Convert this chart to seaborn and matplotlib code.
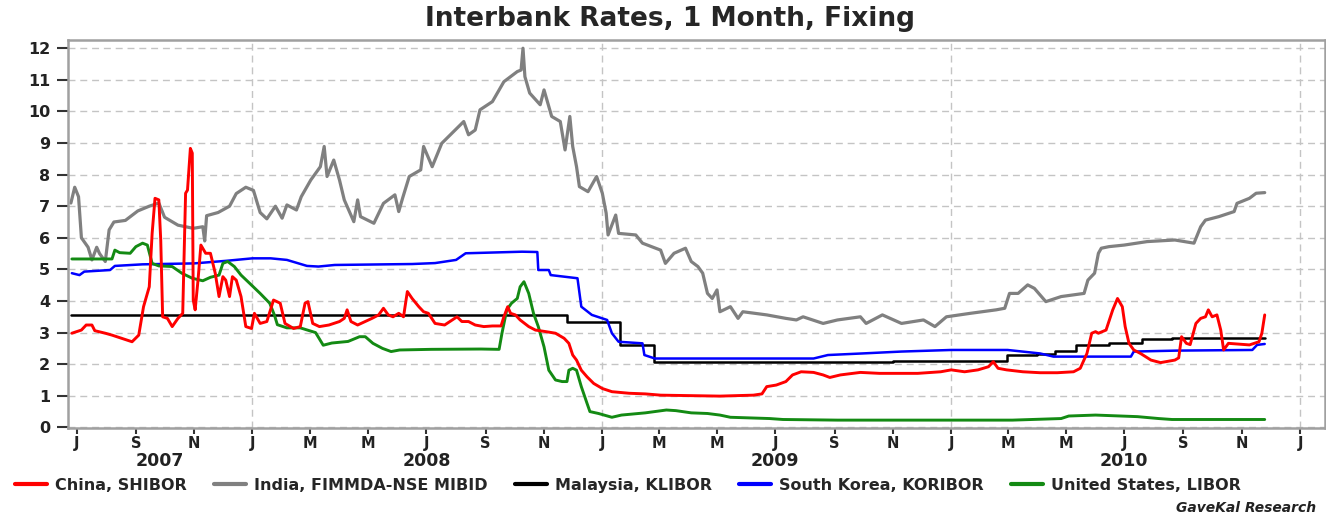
import pandas as pd
import matplotlib
matplotlib.use("Agg")
import matplotlib.pyplot as plt
import seaborn as sns

# ---- data (1 month interbank fixings, %) ----
china_dates = ["2007-06-26", "2007-07-06", "2007-07-11", "2007-07-17", "2007-07-20", "2007-07-31",
               "2007-08-07", "2007-08-17", "2007-08-28", "2007-09-04", "2007-09-09", "2007-09-15",
               "2007-09-18", "2007-09-21", "2007-09-25", "2007-09-27", "2007-09-29", "2007-10-04",
               "2007-10-09", "2007-10-15", "2007-10-20", "2007-10-23", "2007-10-25", "2007-10-28",
               "2007-10-30", "2007-10-31", "2007-11-02", "2007-11-05", "2007-11-08", "2007-11-13",
               "2007-11-18", "2007-11-23", "2007-11-27", "2007-12-01", "2007-12-04", "2007-12-08",
               "2007-12-11", "2007-12-15", "2007-12-20", "2007-12-25", "2007-12-31", "2008-01-03",
               "2008-01-09", "2008-01-16", "2008-01-23", "2008-01-30", "2008-02-04", "2008-02-13",
               "2008-02-20", "2008-02-25", "2008-02-28", "2008-03-04", "2008-03-11", "2008-03-21",
               "2008-04-01", "2008-04-06", "2008-04-09", "2008-04-13", "2008-04-20", "2008-04-28",
               "2008-05-05", "2008-05-12", "2008-05-17", "2008-05-22", "2008-05-27", "2008-06-02",
               "2008-06-07", "2008-06-11", "2008-06-16", "2008-06-23", "2008-06-28", "2008-07-03",
               "2008-07-10", "2008-07-20", "2008-08-02", "2008-08-07", "2008-08-14", "2008-08-21",
               "2008-08-30", "2008-09-08", "2008-09-17", "2008-09-20", "2008-09-24", "2008-09-27",
               "2008-10-02", "2008-10-07", "2008-10-16", "2008-10-23", "2008-11-03", "2008-11-13",
               "2008-11-22", "2008-11-27", "2008-12-01", "2008-12-05", "2008-12-10", "2008-12-16",
               "2008-12-23", "2009-01-01", "2009-01-11", "2009-01-29", "2009-02-15", "2009-03-03",
               "2009-05-04", "2009-06-08", "2009-06-17", "2009-06-22", "2009-07-02", "2009-07-12",
               "2009-07-19", "2009-07-28", "2009-08-10", "2009-08-20", "2009-08-27", "2009-09-07",
               "2009-09-28", "2009-10-18", "2009-11-27", "2009-12-21", "2010-01-01", "2010-01-15",
               "2010-01-29", "2010-02-09", "2010-02-14", "2010-02-19", "2010-02-28", "2010-03-17",
               "2010-04-04", "2010-04-22", "2010-05-09", "2010-05-16", "2010-05-23", "2010-05-28",
               "2010-06-01", "2010-06-04", "2010-06-12", "2010-06-19", "2010-06-24", "2010-06-29",
               "2010-07-02", "2010-07-06", "2010-07-11", "2010-07-18", "2010-07-29", "2010-08-08",
               "2010-08-23", "2010-08-27", "2010-08-30", "2010-09-04", "2010-09-08", "2010-09-14",
               "2010-09-19", "2010-09-24", "2010-09-27", "2010-10-01", "2010-10-06", "2010-10-10",
               "2010-10-13", "2010-10-18", "2010-11-09", "2010-11-19", "2010-11-22", "2010-11-25"]
china_rate = [2.98, 3.08, 3.24, 3.24, 3.06, 2.98,
              2.92, 2.82, 2.71, 2.92, 3.82, 4.45,
              6.14, 7.25, 7.20, 5.93, 3.50, 3.45,
              3.19, 3.45, 3.61, 7.41, 7.51, 8.83,
              8.68, 4.03, 3.72, 4.66, 5.77, 5.51,
              5.51, 4.88, 4.14, 4.77, 4.66, 4.14,
              4.77, 4.66, 4.14, 3.19, 3.13, 3.61,
              3.29, 3.35, 4.03, 3.93, 3.29, 3.13,
              3.19, 3.93, 3.98, 3.29, 3.19, 3.24,
              3.35, 3.45, 3.72, 3.35, 3.24, 3.35,
              3.45, 3.56, 3.77, 3.56, 3.50, 3.61,
              3.50, 4.30, 4.08, 3.82, 3.66, 3.61,
              3.29, 3.24, 3.50, 3.35, 3.35, 3.24,
              3.19, 3.21, 3.21, 3.50, 3.82, 3.61,
              3.56, 3.40, 3.19, 3.08, 3.03, 2.98,
              2.82, 2.66, 2.29, 2.13, 1.81, 1.60,
              1.39, 1.23, 1.13, 1.08, 1.06, 1.02,
              0.99, 1.02, 1.06, 1.29, 1.34, 1.45,
              1.66, 1.76, 1.74, 1.66, 1.58, 1.66,
              1.74, 1.71, 1.71, 1.76, 1.82, 1.76,
              1.82, 1.92, 2.08, 1.87, 1.82, 1.76,
              1.73, 1.73, 1.76, 1.87, 2.34, 2.98,
              3.03, 2.98, 3.08, 3.72, 4.08, 3.82,
              3.19, 2.66, 2.45, 2.34, 2.13, 2.05,
              2.13, 2.20, 2.87, 2.66, 2.62, 3.29,
              3.45, 3.50, 3.72, 3.50, 3.56, 3.08,
              2.45, 2.66, 2.61, 2.71, 2.98, 3.56]

india_dates = ["2007-06-25", "2007-06-29", "2007-07-03", "2007-07-06", "2007-07-13", "2007-07-17",
               "2007-07-22", "2007-07-25", "2007-07-31", "2007-08-04", "2007-08-09", "2007-08-21",
               "2007-09-03", "2007-09-15", "2007-09-25", "2007-10-01", "2007-10-15", "2007-10-31",
               "2007-11-10", "2007-11-12", "2007-11-14", "2007-11-26", "2007-12-08", "2007-12-15",
               "2007-12-25", "2008-01-02", "2008-01-09", "2008-01-16", "2008-01-25", "2008-02-01",
               "2008-02-06", "2008-02-16", "2008-02-21", "2008-03-02", "2008-03-12", "2008-03-16",
               "2008-03-19", "2008-03-26", "2008-04-01", "2008-04-06", "2008-04-16", "2008-04-20",
               "2008-04-23", "2008-05-07", "2008-05-17", "2008-05-29", "2008-06-02", "2008-06-06",
               "2008-06-13", "2008-06-25", "2008-06-28", "2008-07-07", "2008-07-17", "2008-07-26",
               "2008-08-09", "2008-08-14", "2008-08-21", "2008-08-26", "2008-09-08", "2008-09-20",
               "2008-10-04", "2008-10-08", "2008-10-10", "2008-10-12", "2008-10-17", "2008-10-28",
               "2008-11-01", "2008-11-09", "2008-11-18", "2008-11-23", "2008-11-28", "2008-12-01",
               "2008-12-05", "2008-12-08", "2008-12-17", "2008-12-26", "2009-01-01", "2009-01-05",
               "2009-01-07", "2009-01-15", "2009-01-18", "2009-02-05", "2009-02-12", "2009-03-03",
               "2009-03-08", "2009-03-17", "2009-03-29", "2009-04-04", "2009-04-11", "2009-04-16",
               "2009-04-21", "2009-04-26", "2009-05-01", "2009-05-04", "2009-05-15", "2009-05-23",
               "2009-05-28", "2009-06-22", "2009-07-12", "2009-07-23", "2009-07-30", "2009-08-20",
               "2009-09-04", "2009-09-28", "2009-10-04", "2009-10-21", "2009-11-10", "2009-12-03",
               "2009-12-15", "2009-12-27", "2010-01-21", "2010-02-17", "2010-02-26", "2010-03-03",
               "2010-03-12", "2010-03-22", "2010-03-29", "2010-04-10", "2010-04-26", "2010-05-20",
               "2010-05-24", "2010-05-31", "2010-06-04", "2010-06-07", "2010-06-15", "2010-07-01",
               "2010-07-25", "2010-08-23", "2010-09-12", "2010-09-19", "2010-09-24", "2010-10-08",
               "2010-10-24", "2010-10-27", "2010-11-09", "2010-11-16", "2010-11-25"]
india_rate = [7.10, 7.60, 7.30, 6.00, 5.70, 5.30,
              5.70, 5.50, 5.25, 6.25, 6.50, 6.55,
              6.85, 7.00, 7.10, 6.65, 6.40, 6.30,
              6.35, 5.90, 6.70, 6.80, 7.00, 7.40,
              7.60, 7.50, 6.80, 6.60, 7.00, 6.62,
              7.04, 6.88, 7.30, 7.83, 8.25, 8.89,
              7.94, 8.46, 7.83, 7.20, 6.51, 7.20,
              6.67, 6.46, 7.09, 7.36, 6.83, 7.25,
              7.94, 8.15, 8.89, 8.25, 8.99, 9.26,
              9.68, 9.26, 9.41, 10.05, 10.31, 10.94,
              11.26, 11.31, 12.00, 11.10, 10.58, 10.21,
              10.68, 9.84, 9.68, 8.78, 9.84, 8.89,
              8.25, 7.62, 7.46, 7.94, 7.41, 6.78,
              6.09, 6.72, 6.14, 6.09, 5.83, 5.61,
              5.19, 5.51, 5.67, 5.25, 5.09, 4.88,
              4.24, 4.08, 4.35, 3.66, 3.82, 3.45,
              3.66, 3.56, 3.45, 3.40, 3.50, 3.29,
              3.40, 3.50, 3.29, 3.56, 3.29, 3.40,
              3.19, 3.50, 3.61, 3.72, 3.77, 4.24,
              4.24, 4.51, 4.40, 3.98, 4.14, 4.24,
              4.66, 4.88, 5.51, 5.67, 5.72, 5.77,
              5.88, 5.93, 5.83, 6.35, 6.56, 6.67,
              6.83, 7.09, 7.25, 7.41, 7.43]

malaysia_dates = ["2007-06-25", "2008-11-25", "2009-01-20", "2009-02-24", "2009-11-01", "2010-02-28",
                  "2010-04-01", "2010-04-20", "2010-05-12", "2010-06-15", "2010-07-20", "2010-08-20",
                  "2010-11-25"]
malaysia_rate = [3.57, 3.35, 2.62, 2.08, 2.10, 2.28,
                 2.33, 2.42, 2.60, 2.68, 2.80, 2.84,
                 2.84]

korea_dates = ["2007-06-26", "2007-07-04", "2007-07-09", "2007-08-05", "2007-08-10", "2007-09-08",
               "2007-11-01", "2007-12-04", "2008-01-01", "2008-01-20", "2008-02-06", "2008-02-27",
               "2008-03-10", "2008-03-27", "2008-06-16", "2008-07-10", "2008-08-01", "2008-08-11",
               "2008-10-09", "2008-10-25", "2008-10-26", "2008-11-06", "2008-11-08", "2008-12-06",
               "2008-12-10", "2008-12-21", "2009-01-06", "2009-01-11", "2009-01-18", "2009-02-12",
               "2009-02-14", "2009-02-25", "2009-08-10", "2009-08-25", "2009-09-30", "2009-11-10",
               "2010-01-01", "2010-03-01", "2010-04-04", "2010-04-18", "2010-07-08", "2010-07-11",
               "2010-08-25", "2010-11-12", "2010-11-17", "2010-11-25"]
korea_rate = [4.88, 4.82, 4.93, 4.98, 5.11, 5.16,
              5.19, 5.27, 5.35, 5.35, 5.30, 5.11,
              5.09, 5.14, 5.17, 5.20, 5.30, 5.51,
              5.56, 5.55, 4.98, 4.98, 4.82, 4.72,
              3.82, 3.56, 3.40, 2.98, 2.71, 2.66,
              2.29, 2.18, 2.18, 2.29, 2.34, 2.40,
              2.45, 2.45, 2.34, 2.24, 2.24, 2.40,
              2.43, 2.45, 2.61, 2.64]

us_dates = ["2007-06-26", "2007-08-07", "2007-08-10", "2007-08-15", "2007-08-26", "2007-09-01",
            "2007-09-08", "2007-09-13", "2007-09-18", "2007-09-25", "2007-10-09", "2007-10-19",
            "2007-10-30", "2007-11-10", "2007-11-18", "2007-11-27", "2007-12-01", "2007-12-06",
            "2007-12-13", "2007-12-20", "2007-12-29", "2008-01-09", "2008-01-19", "2008-01-24",
            "2008-01-27", "2008-02-06", "2008-02-20", "2008-03-07", "2008-03-15", "2008-03-24",
            "2008-04-10", "2008-04-22", "2008-04-28", "2008-05-06", "2008-05-16", "2008-05-25",
            "2008-06-03", "2008-07-06", "2008-08-27", "2008-09-15", "2008-09-18", "2008-09-23",
            "2008-09-28", "2008-10-04", "2008-10-07", "2008-10-11", "2008-10-16", "2008-10-21",
            "2008-10-26", "2008-11-01", "2008-11-06", "2008-11-13", "2008-11-20", "2008-11-25",
            "2008-11-27", "2008-12-01", "2008-12-05", "2008-12-10", "2008-12-16", "2008-12-19",
            "2008-12-28", "2009-01-11", "2009-01-21", "2009-02-15", "2009-03-09", "2009-03-19",
            "2009-04-04", "2009-04-21", "2009-05-04", "2009-05-15", "2009-06-25", "2009-07-09",
            "2009-09-04", "2010-03-06", "2010-04-26", "2010-05-04", "2010-06-01", "2010-07-15",
            "2010-08-06", "2010-08-20", "2010-11-25"]
us_rate = [5.33, 5.33, 5.61, 5.53, 5.51, 5.72,
           5.83, 5.77, 5.19, 5.11, 5.09, 4.88,
           4.72, 4.64, 4.75, 4.82, 5.19, 5.25,
           5.09, 4.82, 4.56, 4.24, 3.93, 3.55,
           3.25, 3.15, 3.15, 3.00, 2.60, 2.67,
           2.72, 2.87, 2.87, 2.66, 2.50, 2.40,
           2.45, 2.47, 2.48, 2.47, 2.98, 3.72,
           3.93, 4.08, 4.45, 4.61, 4.24, 3.61,
           3.19, 2.55, 1.81, 1.50, 1.45, 1.45,
           1.81, 1.87, 1.81, 1.29, 0.76, 0.50,
           0.44, 0.32, 0.39, 0.46, 0.55, 0.53,
           0.46, 0.44, 0.39, 0.32, 0.28, 0.25,
           0.23, 0.23, 0.28, 0.36, 0.39, 0.34,
           0.28, 0.25, 0.25]

series_labels = ["China, SHIBOR", "India, FIMMDA-NSE MIBID", "Malaysia, KLIBOR",
                 "South Korea, KORIBOR", "United States, LIBOR"]
series_colors = ["#ff0000", "#808080", "#000000", "#0000ff", "#138a13"]

title = "Interbank Rates, 1 Month, Fixing"
source = "GaveKal Research"

# ---- plot ----
sns.set_style("white")
plt.rcParams["font.family"] = ["DejaVu Sans"]

fig = plt.figure(figsize=(13.26, 5.16), dpi=100)
ax = fig.add_axes([0.0513, 0.1705, 0.9479, 0.752])

grid_kw = dict(color="#c4c4c4", lw=1.0, linestyle=(0, (5, 3.5)), zorder=0)
for yv in range(0, 13):
    ax.axhline(yv, **grid_kw)
for d in ["2008-01-01", "2009-01-01", "2010-01-01", "2011-01-01"]:
    ax.axvline(pd.Timestamp(d), **grid_kw)

sns.lineplot(x=pd.to_datetime(india_dates), y=india_rate, ax=ax, color=series_colors[1],
             lw=2.3, label=series_labels[1], errorbar=None)
sns.lineplot(x=pd.to_datetime(malaysia_dates), y=malaysia_rate, ax=ax, color=series_colors[2],
             lw=1.8, label=series_labels[2], errorbar=None, drawstyle="steps-post")
sns.lineplot(x=pd.to_datetime(korea_dates), y=korea_rate, ax=ax, color=series_colors[3],
             lw=1.8, label=series_labels[3], errorbar=None)
sns.lineplot(x=pd.to_datetime(us_dates), y=us_rate, ax=ax, color=series_colors[4],
             lw=2.1, label=series_labels[4], errorbar=None)
sns.lineplot(x=pd.to_datetime(china_dates), y=china_rate, ax=ax, color=series_colors[0],
             lw=2.1, label=series_labels[0], errorbar=None)

x_left = pd.Timestamp("2007-06-22")
ax.set_xlim(x_left, pd.Timestamp("2011-01-27"))
ax.set_ylim(-0.02, 12.26)

ax.set_yticks(range(0, 13))
ax.set_yticklabels([str(v) for v in range(0, 13)])
month_ticks = pd.date_range("2007-07-01", "2011-01-01", freq="2MS")
ax.set_xticks(month_ticks)
ax.set_xticklabels([d.strftime("%b")[0] for d in month_ticks])
ax.tick_params(axis="y", length=8, width=1.5, color="#333333", pad=5,
               labelsize=11.5, labelcolor="#222222", left=True)
ax.tick_params(axis="x", length=4, width=1.5, color="#333333", pad=1.5,
               labelsize=10.5, labelcolor="#222222", bottom=True)
for lab in ax.get_xticklabels() + ax.get_yticklabels():
    lab.set_fontweight("bold")
ax.set_xlabel("")
ax.set_ylabel("")

for side in ["left", "right", "top", "bottom"]:
    ax.spines[side].set_color("#a0a0a0")
    ax.spines[side].set_linewidth(1.8)

# year labels under the month letters
trans = ax.get_xaxis_transform()
year_pos = {"2007": x_left + (pd.Timestamp("2008-01-01") - x_left) / 2,
            "2008": pd.Timestamp("2008-07-01"),
            "2009": pd.Timestamp("2009-07-01"),
            "2010": pd.Timestamp("2010-07-01")}
for yr, pos in year_pos.items():
    ax.text(pos, -0.086, yr, transform=trans, ha="center", va="center",
            fontsize=12.5, fontweight="bold", color="#222222")

fig.text(0.505, 0.963, title, ha="center", va="center", fontsize=19, fontweight="bold")

handles, labels = ax.get_legend_handles_labels()
ax.get_legend().remove()
order = [labels.index(l) for l in series_labels]
leg = fig.legend([handles[i] for i in order], [labels[i] for i in order],
                 loc="center", bbox_to_anchor=(0.011, 0.04, 0.925, 0.04), mode="expand",
                 ncol=5, frameon=False, handlelength=2.0, handletextpad=0.5,
                 borderpad=0, borderaxespad=0, prop={"size": 11.5, "weight": "bold"})
for h in leg.legend_handles:
    h.set_linewidth(3)

fig.text(0.887, 0.015, source, ha="left", va="center", fontsize=10,
         fontweight="bold", fontstyle="italic", color="#222222")

fig.savefig("out.png", dpi=100)
